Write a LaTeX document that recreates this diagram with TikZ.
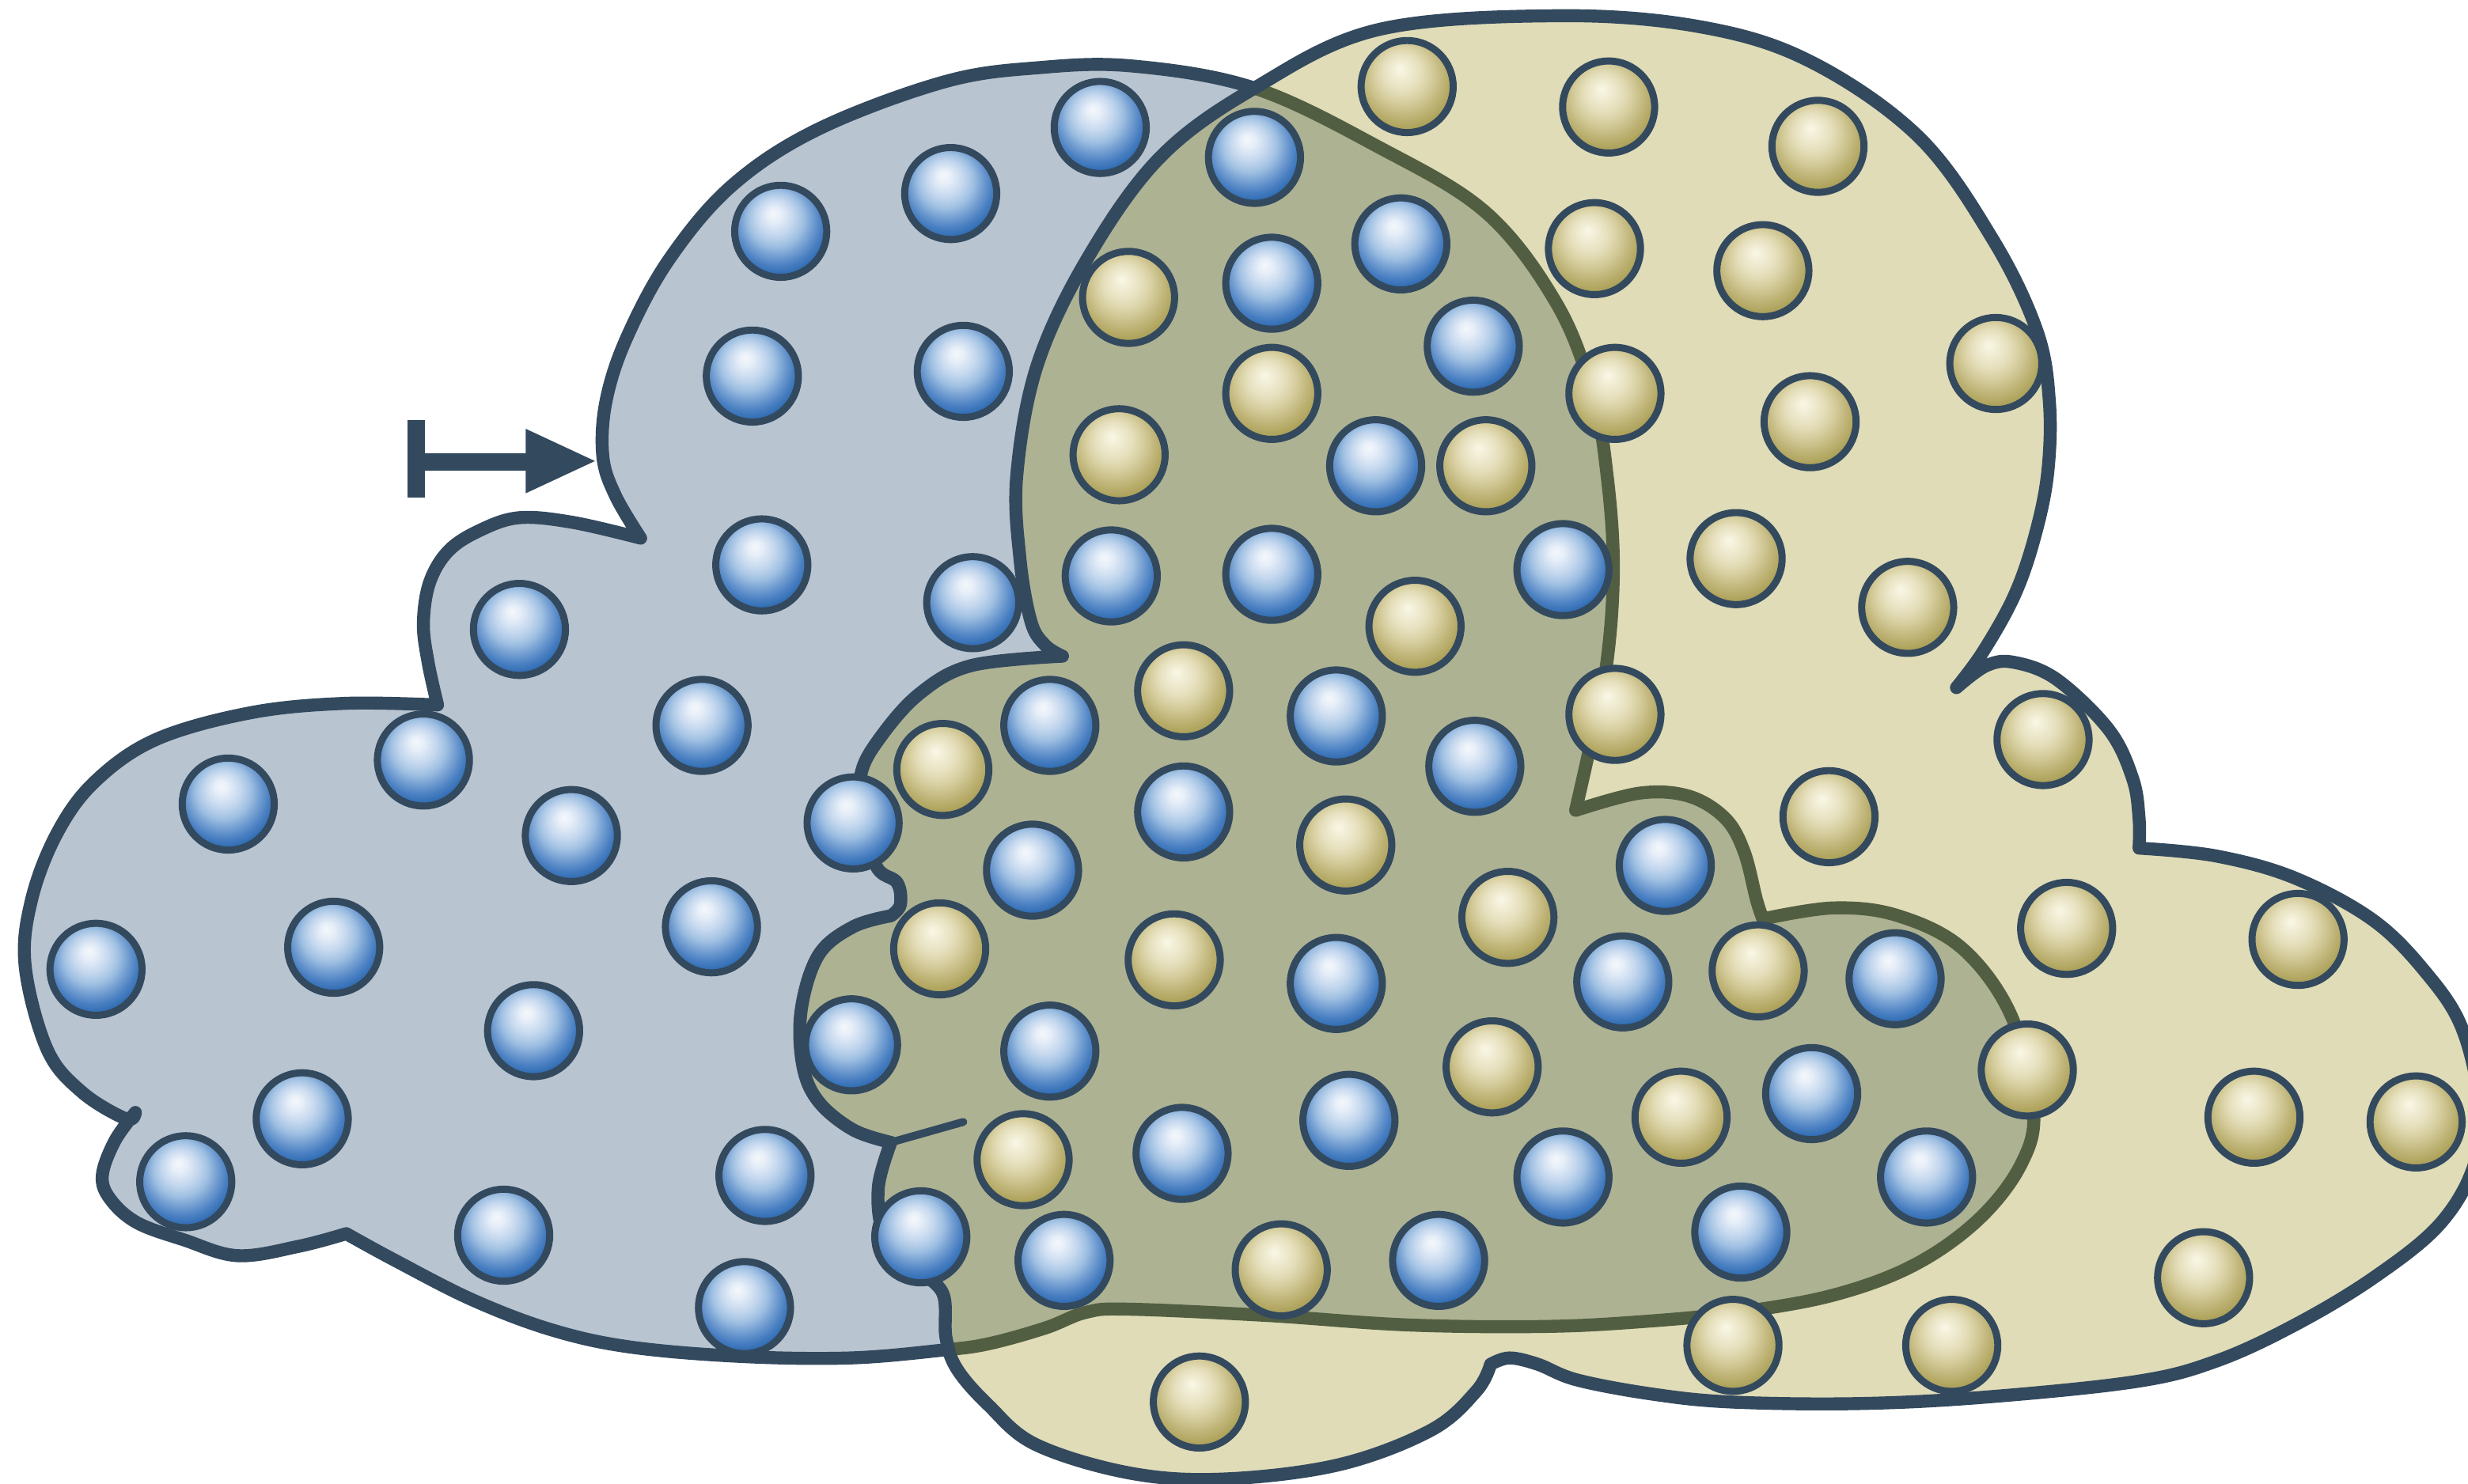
\documentclass[tikz,border=0pt]{standalone}
\definecolor{navy}{HTML}{33495E}
\definecolor{oliveline}{HTML}{525E42}
\definecolor{bluefill}{HTML}{B8C4D0}
\definecolor{yelfill}{HTML}{DFDCB7}
\definecolor{mixfill}{HTML}{ADB293}
% blue sphere tones
\definecolor{bsA}{HTML}{F5F8FC}
\definecolor{bsB}{HTML}{E6EEF8}
\definecolor{bsC}{HTML}{C4D7EE}
\definecolor{bsD}{HTML}{9FC0E2}
\definecolor{bsE}{HTML}{6F9BD0}
\definecolor{bsF}{HTML}{4A80C2}
\definecolor{bsG}{HTML}{2E6BB2}
\definecolor{bsH}{HTML}{2163A9}
% yellow sphere tones
\definecolor{ysA}{HTML}{F9F7E6}
\definecolor{ysB}{HTML}{F2EED6}
\definecolor{ysC}{HTML}{E6E0BE}
\definecolor{ysD}{HTML}{D8D0A2}
\definecolor{ysE}{HTML}{C6BC84}
\definecolor{ysF}{HTML}{B8AD6B}
\definecolor{ysG}{HTML}{ABA057}
\definecolor{ysH}{HTML}{A69B4C}
\pgfdeclareradialshading{blueball}{\pgfpoint{-4bp}{10bp}}{%
  color(0bp)=(bsA); color(4bp)=(bsB); color(10bp)=(bsC); color(15bp)=(bsD);
  color(20bp)=(bsE); color(24bp)=(bsF); color(28bp)=(bsG); color(32bp)=(bsH);
  color(50bp)=(bsH)}
\pgfdeclareradialshading{yellowball}{\pgfpoint{-4bp}{10bp}}{%
  color(0bp)=(ysA); color(4bp)=(ysB); color(10bp)=(ysC); color(15bp)=(ysD);
  color(20bp)=(ysE); color(24bp)=(ysF); color(28bp)=(ysG); color(32bp)=(ysH);
  color(50bp)=(ysH)}
\begin{document}
\begin{tikzpicture}[x=0.02cm,y=-0.02cm,
  outline/.style={line width=0.165cm, line join=round, line cap=round},
  bsphere/.style={shading=blueball, draw=navy, line width=0.09cm},
  ysphere/.style={shading=yellowball, draw=navy, line width=0.09cm}]
\useasboundingbox (0,0) rectangle (1568,943);

% outline of the blue cell cluster
\def\bluepath{plot[smooth,tension=0.6] coordinates {(407,342) (364,332) (330,329) (305,337) (285,350) (273,370) (269,396) (272,421) (278,448)}
  -- plot[smooth,tension=0.6] coordinates {(278,448) (219,447) (159,453) (99,470) (60,497) (36,530) (20,572) (16,614) (30,667) (52,694) (80,711) (86,707)}
  -- plot[smooth,tension=0.6] coordinates {(86,707) (73,725) (65,747) (70,762) (87,777) (117,788) (151,798) (190,792) (220,784)}
  -- plot[smooth,tension=0.6] coordinates {(220,784) (251,801) (300,826) (350,845) (400,856) (470,862) (540,863) (599,858) (628,854) (664,844) (690,834) (717,832) (805,836) (894,842) (980,843) (1042,840) (1104,834) (1165,823) (1216,804) (1257,775) (1284,740) (1292,705) (1278,646) (1247,603) (1206,582) (1165,577) (1120,584)}
  -- plot[smooth,tension=0.6] coordinates {(1120,584) (1116,572) (1108,541) (1096,520) (1073,506) (1042,504) (1001,515)}
  -- plot[smooth,tension=0.6] coordinates {(1001,515) (1010,475) (1021,420) (1025,360) (1021,302) (1012,251) (989,193) (944,135) (875,93) (797,56) (720,42) (660,43) (600,52) (520,82) (465,118) (425,165) (398,215) (385,255) (383,290) (391,315) (407,342)}
  -- cycle}

% outline of the yellow cell cluster
\def\yelpath{plot[smooth,tension=0.6] coordinates {(675,417) (617,423) (584,441) (559,469) (547,492) (548,520) (557,551) (570,561) (572,575) (566,582)}
  -- plot[smooth,tension=0.6] coordinates {(566,582) (542,589) (520,607) (509,642) (510,677) (520,700) (542,718) (566,726)}
  -- plot[smooth,tension=0.6] coordinates {(566,726) (558,755) (562,785) (582,806) (599,822) (601,850) (608,870) (628,893) (658,918) (717,936) (776,940) (850,931) (909,909) (938,884) (947,867)}
  -- plot[smooth,tension=0.6] coordinates {(947,867) (959,863) (977,867) (1002,877) (1050,886) (1100,891) (1180,892) (1260,888) (1357,878) (1408,865) (1458,842) (1508,812) (1550,778) (1572,740) (1575,700) (1564,653) (1542,619) (1508,585) (1458,558) (1408,544) (1359,539)}
  -- plot[smooth,tension=0.6] coordinates {(1359,539) (1359,520) (1355,495) (1340,464) (1307,432) (1280,421) (1262,423) (1243,437)}
  -- plot[smooth,tension=0.6] coordinates {(1243,437) (1260,414) (1280,378) (1293,340) (1301,300) (1302,255) (1294,210) (1266,152) (1219,87) (1150,39) (1080,17) (989,10) (875,19) (797,56) (737,100) (691,164) (659,232) (646,302) (648,355) (655,395) (664,410) (675,417)}
  -- cycle}

% blue region with its outline
\fill[bluefill] \bluepath;
\draw[outline, navy] \bluepath;
% yellow region laid over it
\fill[yelfill] \yelpath;
\begin{scope}
  \clip \bluepath;
  \fill[mixfill] \yelpath;
\end{scope}
% part of the blue outline seen through the yellow region
\begin{scope}
  \clip \yelpath;
  \draw[outline, oliveline] \bluepath;
\end{scope}
\draw[outline, navy] \yelpath;
\coordinate (stubA) at (566,726);
\coordinate (stubB) at (612,713);
\draw[navy, line width=0.1cm, line cap=round] (stubA) -- (stubB);

% blue spheres
\foreach \x/\y in {699/81, 604/123, 496/147, 797/100, 890/155, 808/180, 478/239, 612/236,
  936/220, 874/296, 484/359, 618/383, 706/366, 808/365, 993/362, 330/400, 446/461,
  667/461, 849/455, 269/483, 145/511, 363/531, 542/523, 752/516, 937/487, 656/553,
  1058/550, 452/589, 61/616, 212/602, 849/625, 1031/624, 1204/622, 339/655, 541/664,
  667/668, 1151/695, 192/711, 857/712, 118/751, 486/747, 751/733, 993/748, 1224/748,
  320/785, 585/786, 676/801, 914/801, 1106/783, 473/831}
  \shade[bsphere] (\x,\y) circle[radius=0.585cm];

% yellow spheres
\foreach \x/\y in {894/55, 1022/68, 1155/93, 1013/158, 1120/172, 717/189, 808/250,
  1026/250, 1268/231, 1150/268, 711/289, 944/296, 1103/355, 1212/386, 899/398,
  752/439, 1026/454, 1298/470, 599/489, 1162/519, 855/537, 958/583, 597/603,
  746/610, 1313/590, 1117/617, 1460/597, 948/678, 1288/680, 1068/710, 650/737,
  1432/710, 1535/713, 814/807, 1400/812, 1101/855, 1240/855, 762/891}
  \shade[ysphere] (\x,\y) circle[radius=0.585cm];

% entry marker
\fill[navy] (259,267) rectangle (270,316);
\fill[navy] (268,288) rectangle (336,299);
\fill[navy] (334,272.5) -- (378,293) -- (334,313.5) -- cycle;
\end{tikzpicture}
\end{document}
